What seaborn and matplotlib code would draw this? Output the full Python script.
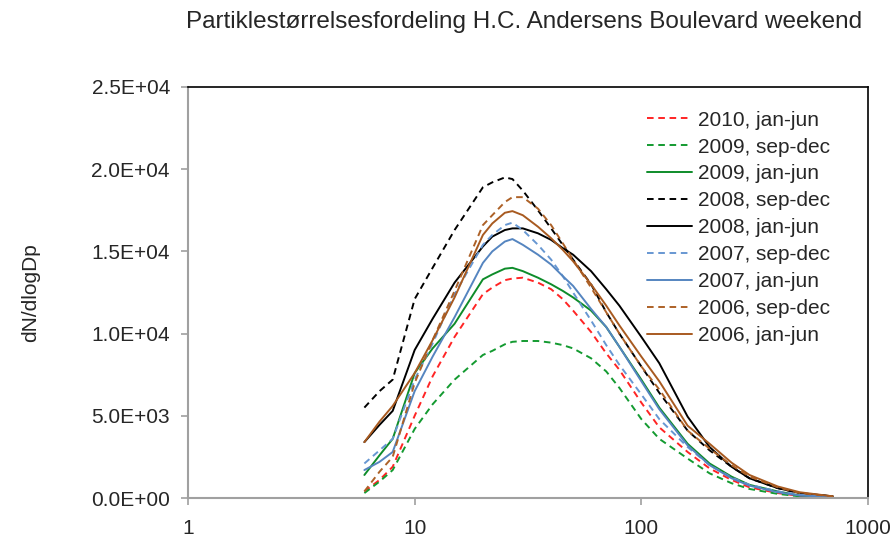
import matplotlib
matplotlib.use("Agg")
import matplotlib.pyplot as plt
import matplotlib.ticker as mticker
import seaborn as sns
import pandas as pd

# ---- data -------------------------------------------------------------
dp = [6, 7, 8, 10, 12, 15, 20, 22, 25, 27, 30, 35, 40, 45, 50, 60, 70, 80,
      100, 120, 160, 200, 250, 300, 400, 500, 700]

labels = ["2010, jan-jun", "2009, sep-dec", "2009, jan-jun", "2008, sep-dec",
          "2008, jan-jun", "2007, sep-dec", "2007, jan-jun", "2006, sep-dec",
          "2006, jan-jun"]

s2010_jj = [400, 1100, 1900, 5000, 7400, 9800, 12400, 12800, 13250, 13350, 13400,
            13100, 12700, 12100, 11400, 10100, 8800, 7800, 5800, 4300, 2800, 1800,
            1100, 650, 300, 120, 50]
s2009_sd = [300, 1000, 1700, 4200, 5700, 7200, 8700, 8950, 9350, 9500, 9550,
            9550, 9450, 9300, 9100, 8500, 7700, 6700, 4800, 3600, 2400, 1500,
            900, 550, 250, 100, 30]
s2009_jj = [1400, 2600, 3600, 7600, 9100, 10600, 13300, 13600, 13950, 14000, 13800,
            13400, 13000, 12600, 12200, 11400, 10400, 9200, 7200, 5500, 3300, 2100,
            1300, 800, 400, 150, 50]
s2008_sd = [5500, 6500, 7200, 12100, 14000, 16300, 18900, 19200, 19500, 19400, 18700,
            17500, 16400, 15400, 14500, 13000, 11300, 10000, 8000, 6400, 4100, 2900,
            1900, 1200, 600, 300, 100]
s2008_jj = [3400, 4450, 5300, 9000, 10900, 13100, 15300, 15900, 16300, 16400, 16400,
            16100, 15700, 15200, 14800, 13800, 12700, 11700, 9800, 8200, 4950, 3100,
            1900, 1200, 600, 300, 100]
s2007_sd = [2100, 2900, 3600, 7200, 9400, 12400, 15400, 16000, 16600, 16750, 16300,
            15400, 14500, 13500, 12500, 10800, 9300, 8100, 6300, 4800, 3100, 2000,
            1250, 800, 400, 200, 50]
s2007_jj = [1700, 2200, 2800, 6500, 8600, 11000, 14300, 15000, 15600, 15750, 15400,
            14800, 14200, 13500, 12900, 11500, 10400, 9200, 7100, 5400, 3200, 2000,
            1200, 750, 350, 150, 50]
s2006_sd = [400, 1600, 2500, 7000, 9600, 12600, 16600, 17200, 18000, 18300, 18300,
            17600, 16600, 15500, 14500, 12800, 11300, 10000, 8000, 6600, 4100, 3000,
            2000, 1300, 650, 300, 100]
s2006_jj = [3400, 4650, 5600, 7600, 9600, 12200, 16000, 16700, 17350, 17450, 17200,
            16500, 15800, 15100, 14400, 13000, 11700, 10500, 8600, 7100, 4400, 3300,
            2150, 1400, 700, 350, 100]

series = [s2010_jj, s2009_sd, s2009_jj, s2008_sd, s2008_jj,
          s2007_sd, s2007_jj, s2006_sd, s2006_jj]

x_ticks = [1, 10, 100, 1000]
x_tick_labels = ["1", "10", "100", "1000"]
y_ticks = [0, 5000, 10000, 15000, 20000, 25000]

title = "Partiklestørrelsesfordeling H.C. Andersens Boulevard weekend"
ylabel = "dN/dlogDp"

# ---- style ------------------------------------------------------------
colors = ["#ff2424", "#139a30", "#0e8c2a", "#000000", "#000000",
          "#6797d2", "#5585c0", "#ad6127", "#a85a20"]
styles = ["--", "--", "-", "--", "-", "--", "-", "--", "-"]

sns.set_style("white")
plt.rcParams["font.family"] = ["Liberation Sans", "DejaVu Sans"]

fig = plt.figure(figsize=(8.91, 5.39), dpi=100)
ax = fig.add_axes([188 / 891, 1 - 498 / 539, 680 / 891, 411 / 539])

for lab, vals, c, ls in zip(labels, series, colors, styles):
    df = pd.DataFrame({"dp": dp, "val": vals})
    sns.lineplot(data=df, x="dp", y="val", ax=ax, color=c, linestyle=ls,
                 linewidth=1.4, label=lab, sort=False, estimator=None)

for line in ax.get_lines():
    if line.get_linestyle() == "--":
        line.set_dashes((3.4, 2.4))
    line.set_solid_joinstyle("round")
    line.set_dash_joinstyle("round")

ax.set_xscale("log")
ax.set_xlim(1, 1000)
ax.set_ylim(0, 25000)
ax.xaxis.set_major_locator(mticker.FixedLocator(x_ticks))
ax.xaxis.set_minor_locator(mticker.NullLocator())
ax.set_xticklabels(x_tick_labels)
ax.set_yticks(y_ticks)
ax.yaxis.set_major_formatter(mticker.FuncFormatter(lambda v, p: f"{v:.1E}"))

ax.set_xlabel("")
ax.set_ylabel(ylabel, fontsize=15, labelpad=37)

ax.tick_params(axis="both", which="major", labelsize=15, direction="out",
               length=5, width=1.2, color="#a0a0a0", left=True, bottom=True)
ax.tick_params(axis="x", pad=10)
ax.tick_params(axis="y", pad=8)

for side in ["left", "bottom"]:
    ax.spines[side].set_color("#a0a0a0")
    ax.spines[side].set_linewidth(1.5)
for side in ["top", "right"]:
    ax.spines[side].set_color("#000000")
    ax.spines[side].set_linewidth(1.2)
    ax.spines[side].set_visible(True)

leg = ax.legend(loc="upper right", bbox_to_anchor=(0.963, 0.973), frameon=False,
                fontsize=15, handlelength=2.15, handletextpad=0.3,
                labelspacing=0.38, borderaxespad=0.2)

fig.text(524 / 891, 1 - 22 / 539, title, ha="center", va="center", fontsize=17.5)

fig.savefig("out.png", dpi=100)
